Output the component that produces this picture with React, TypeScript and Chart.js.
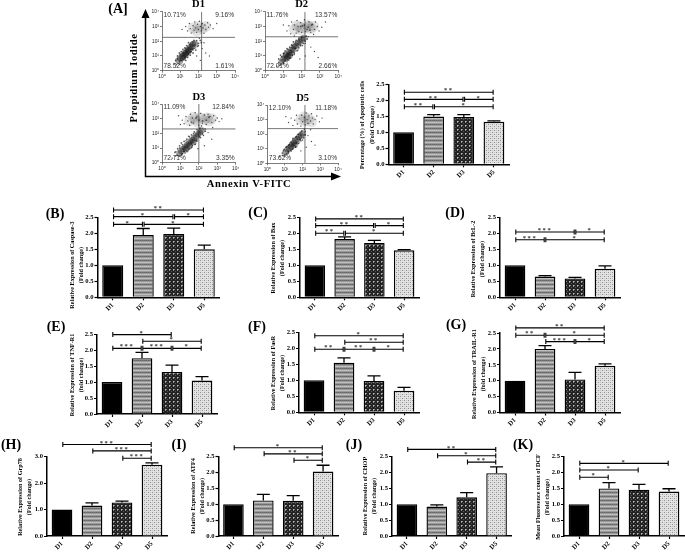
import React, { useEffect, useRef } from "react";
import { Chart, registerables } from "chart.js";

Chart.register(...registerables);

const categories = ["D1", "D2", "D3", "D5"];

const apoptosisMean = [1, 1.49, 1.48, 1.33];
const apoptosisErr = [0, 0.06, 0.07, 0.03];
const caspaseMean = [1, 1.95, 1.98, 1.5];
const caspaseErr = [0, 0.2, 0.18, 0.13];
const baxMean = [1, 1.82, 1.7, 1.47];
const baxErr = [0, 0.07, 0.08, 0.02];
const bclMean = [1, 0.65, 0.59, 0.89];
const bclErr = [0, 0.03, 0.03, 0.09];
const tnfMean = [1, 1.75, 1.32, 1.05];
const tnfErr = [0, 0.18, 0.21, 0.12];
const fasMean = [1, 1.55, 0.98, 0.67];
const fasErr = [0, 0.15, 0.16, 0.11];
const trailMean = [1, 2.0, 1.04, 1.47];
const trailErr = [0, 0.1, 0.22, 0.06];
const grpMean = [1, 1.15, 1.27, 2.7];
const grpErr = [0, 0.1, 0.05, 0.07];
const atfMean = [1, 1.12, 1.11, 2.03];
const atfErr = [0, 0.19, 0.16, 0.2];
const chopMean = [1, 0.93, 1.22, 1.98];
const chopErr = [0, 0.05, 0.15, 0.2];
const dcfMean = [1, 1.5, 1.46, 1.4];
const dcfErr = [0, 0.18, 0.17, 0.09];

type Bracket = [number, number, number, string];
const apoptosisBrackets: Bracket[] = [[0, 3, 2.25, "**"], [0, 2, 2.03, "**"], [2, 3, 2.03, "*"], [0, 1, 1.8, "**"], [1, 3, 1.8, "*"]];
const caspaseBrackets: Bracket[] = [[0, 3, 2.73, "**"], [0, 2, 2.52, "*"], [2, 3, 2.52, "*"], [0, 1, 2.28, "*"], [1, 3, 2.28, "*"]];
const baxBrackets: Bracket[] = [[0, 3, 2.45, "**"], [0, 2, 2.24, "**"], [2, 3, 2.24, "*"], [0, 1, 2.0, "**"], [1, 3, 2.0, "*"]];
const bclBrackets: Bracket[] = [[0, 2, 2.04, "***"], [2, 3, 2.04, "*"], [0, 1, 1.8, "***"], [1, 3, 1.8, "*"]];
const tnfBrackets: Bracket[] = [[0, 2, 2.49, "*"], [1, 3, 2.28, "*"], [0, 1, 2.06, "***"], [1, 2, 2.06, "***"], [2, 3, 2.06, "*"]];
const fasBrackets: Bracket[] = [[0, 3, 2.39, "*"], [1, 3, 2.19, "**"], [0, 1, 1.97, "**"], [1, 2, 1.97, "**"], [2, 3, 1.97, "*"]];
const trailBrackets: Bracket[] = [[0, 3, 2.66, "**"], [0, 1, 2.43, "**"], [1, 3, 2.43, "*"], [1, 2, 2.23, "***"], [2, 3, 2.23, "*"]];
const grpBrackets: Bracket[] = [[0, 3, 3.46, "***"], [1, 3, 3.22, "***"], [2, 3, 2.94, "***"]];
const atfBrackets: Bracket[] = [[0, 3, 2.78, "*"], [1, 3, 2.59, "**"], [2, 3, 2.39, "*"]];
const chopBrackets: Bracket[] = [[0, 3, 2.73, "**"], [1, 3, 2.53, "*"], [2, 3, 2.33, "**"]];
const dcfBrackets: Bracket[] = [[0, 3, 2.29, "*"], [0, 2, 2.08, "*"], [0, 1, 1.85, "*"]];

const tickDefault = [0, 0.5, 1, 1.5, 2, 2.5];
const tickGrp = [0, 1, 2, 3];

type Pt = [number, number];
const d1Dense: Pt[] = [[0.9, 0.7], [1.0, 0.85], [1.1, 1.0], [1.15, 0.9], [1.2, 1.05], [1.25, 1.2], [1.3, 1.1], [1.35, 1.25], [1.4, 1.4], [1.45, 1.3], [1.5, 1.45], [1.55, 1.6], [1.65, 1.65], [1.7, 1.8], [1.8, 1.85]];
const d1Haze: Pt[] = [[1.7, 2.9], [2.0, 3.0], [2.2, 2.85], [2.4, 3.0], [1.9, 2.7]];
const d1Mid: Pt[] = [[0.95, 0.45], [1.0, 0.7], [1.1, 0.6], [1.15, 0.75], [1.25, 0.85], [1.3, 0.7], [1.4, 0.9], [1.45, 1.15], [1.55, 1.05], [1.6, 1.3], [1.7, 1.2], [1.75, 1.5], [1.85, 1.4], [1.95, 1.65], [2.0, 1.85], [0.75, 0.7], [0.85, 1.0], [0.95, 1.2], [1.05, 1.3], [1.15, 1.45], [1.25, 1.55], [1.35, 1.7], [1.45, 1.9], [1.55, 1.85], [1.75, 2.05], [2.1, 2.05], [2.15, 1.9], [1.65, 1.45]];
const d1Sparse: Pt[] = [[0.7, 0.5], [0.8, 0.4], [0.85, 0.8], [0.95, 0.6], [1.0, 1.1], [1.05, 0.7], [1.2, 0.75], [1.15, 1.25], [1.3, 0.95], [1.4, 1.05], [1.3, 1.5], [1.55, 1.25], [1.5, 1.75], [1.7, 1.4], [1.65, 1.95], [1.85, 1.55], [1.9, 2.05], [2.0, 1.7], [2.05, 2.2], [2.2, 1.5], [2.3, 1.9], [2.4, 1.2], [2.6, 1.0], [1.9, 1.0], [2.1, 0.7], [1.3, 3.0], [1.4, 2.7], [1.5, 3.2], [1.55, 2.85], [1.6, 2.55], [1.7, 3.05], [1.75, 2.75], [1.8, 3.3], [1.85, 2.9], [1.9, 2.6], [1.95, 3.15], [2.0, 2.8], [2.05, 3.35], [2.1, 3.0], [2.15, 2.7], [2.2, 3.2], [2.25, 2.9], [2.3, 2.55], [2.35, 3.1], [2.4, 2.8], [2.5, 3.25], [2.55, 2.95], [2.65, 3.1], [2.8, 2.85], [1.1, 2.8], [3.0, 3.2]];
const d2Dense: Pt[] = [[0.9, 0.6], [1.0, 0.8], [1.1, 0.9], [1.15, 1.1], [1.25, 1.0], [1.3, 1.25], [1.4, 1.2], [1.45, 1.4], [1.55, 1.45], [1.6, 1.65], [1.7, 1.7], [1.8, 1.85], [1.9, 1.95], [2.0, 2.1], [2.1, 2.2], [1.2, 0.85], [1.35, 1.05]];
const d2Haze: Pt[] = [[1.6, 2.8], [1.9, 2.95], [2.2, 2.9], [2.4, 3.0], [2.5, 2.85], [2.3, 3.1], [2.0, 2.75], [1.75, 3.05], [2.65, 3.0]];
const d2Mid: Pt[] = [[0.85, 0.4], [1.0, 0.55], [1.1, 0.65], [1.25, 0.75], [1.35, 0.85], [1.5, 1.05], [1.6, 1.2], [1.75, 1.35], [1.85, 1.55], [1.95, 1.7], [2.1, 1.85], [2.2, 2.0], [2.3, 2.15], [0.75, 0.8], [0.85, 1.05], [1.0, 1.15], [1.1, 1.35], [1.2, 1.5], [1.35, 1.6], [1.45, 1.75], [1.55, 1.95], [1.7, 2.05], [1.85, 2.2], [2.0, 2.25], [1.65, 1.5], [2.25, 2.35], [1.95, 3.0], [2.15, 3.1], [2.35, 2.95], [2.55, 3.1], [2.45, 2.75]];
const d2Sparse: Pt[] = [[0.65, 0.3], [0.75, 0.55], [0.8, 0.35], [0.9, 0.95], [1.0, 0.5], [1.05, 1.2], [1.2, 0.6], [1.25, 1.45], [1.4, 0.85], [1.5, 1.7], [1.6, 1.1], [1.65, 1.95], [1.8, 1.4], [1.85, 2.1], [2.05, 1.7], [2.2, 1.85], [2.35, 2.3], [2.5, 1.6], [2.7, 1.3], [2.2, 1.0], [1.9, 0.8], [2.9, 0.9], [1.2, 2.7], [1.3, 3.05], [1.4, 2.5], [1.45, 3.3], [1.55, 2.8], [1.6, 3.1], [1.7, 2.55], [1.75, 3.4], [1.8, 3.0], [1.85, 2.65], [1.95, 3.25], [2.0, 2.6], [2.05, 3.05], [2.15, 3.45], [2.2, 2.65], [2.3, 2.8], [2.4, 3.3], [2.5, 2.6], [2.6, 3.15], [2.7, 2.8], [2.75, 3.3], [2.85, 3.0], [2.95, 2.7], [3.1, 2.95], [1.0, 3.1], [3.3, 3.3], [2.65, 2.45], [1.6, 2.35]];
const d3Dense: Pt[] = [[0.95, 0.65], [1.05, 0.8], [1.15, 0.95], [1.25, 1.05], [1.3, 0.9], [1.35, 1.2], [1.45, 1.3], [1.5, 1.15], [1.55, 1.45], [1.65, 1.55], [1.7, 1.4], [1.75, 1.7], [1.85, 1.8], [1.95, 1.95], [2.05, 2.05], [2.15, 2.2]];
const d3Haze: Pt[] = [[1.5, 2.85], [1.8, 2.95], [2.1, 3.05], [2.3, 2.95], [2.45, 3.05], [2.55, 2.85], [1.95, 2.75], [1.7, 3.1], [2.7, 3.0]];
const d3Mid: Pt[] = [[0.8, 0.5], [0.95, 0.45], [1.1, 0.6], [1.2, 0.75], [1.35, 0.8], [1.5, 0.95], [1.6, 1.05], [1.8, 1.25], [1.9, 1.55], [2.05, 1.75], [2.2, 1.95], [2.35, 2.15], [0.7, 0.7], [0.85, 0.95], [0.95, 1.15], [1.05, 1.35], [1.2, 1.45], [1.35, 1.6], [1.45, 1.8], [1.6, 1.9], [1.75, 2.1], [1.9, 2.25], [2.05, 2.35], [1.85, 1.5], [1.85, 3.05], [2.0, 2.9], [2.2, 2.85], [2.4, 2.9], [2.55, 3.1], [1.6, 2.75]];
const d3Sparse: Pt[] = [[0.55, 0.3], [0.7, 0.45], [0.75, 0.75], [0.85, 0.5], [0.95, 1.0], [1.05, 0.55], [1.1, 1.25], [1.25, 0.65], [1.3, 1.5], [1.45, 0.9], [1.5, 1.75], [1.65, 1.15], [1.7, 2.0], [1.9, 1.45], [2.1, 1.7], [2.25, 1.85], [2.35, 2.3], [2.5, 2.05], [2.7, 1.6], [2.3, 1.15], [1.95, 0.95], [2.75, 2.4], [1.1, 2.9], [1.2, 2.65], [1.3, 3.15], [1.4, 2.85], [1.5, 2.55], [1.55, 3.3], [1.65, 3.05], [1.7, 2.7], [1.8, 3.4], [1.9, 3.15], [2.0, 2.55], [2.1, 3.35], [2.2, 2.7], [2.3, 3.25], [2.4, 2.6], [2.5, 3.3], [2.6, 3.15], [2.7, 2.75], [2.8, 3.2], [2.9, 2.9], [3.0, 3.05], [3.1, 2.8], [1.0, 2.6], [3.25, 3.0], [0.9, 3.2], [2.15, 2.5]];
const d5Dense: Pt[] = [[1.05, 0.75], [1.15, 0.95], [1.25, 1.05], [1.35, 1.15], [1.4, 1.3], [1.5, 1.4], [1.55, 1.25], [1.6, 1.55], [1.7, 1.65], [1.8, 1.8], [1.9, 1.9], [2.0, 2.05]];
const d5Haze: Pt[] = [[1.9, 3.0], [2.15, 2.9], [2.35, 3.05], [2.1, 3.2], [2.5, 2.85]];
const d5Mid: Pt[] = [[0.95, 0.5], [1.1, 0.65], [1.2, 0.8], [1.35, 0.85], [1.45, 1.0], [1.6, 1.15], [1.75, 1.35], [1.9, 1.55], [2.05, 1.75], [2.15, 1.95], [0.85, 0.7], [0.95, 0.95], [1.1, 1.15], [1.2, 1.25], [1.35, 1.45], [1.45, 1.7], [1.6, 1.8], [1.75, 2.0], [1.95, 2.2], [2.1, 2.35], [1.65, 1.4], [1.85, 1.65]];
const d5Sparse: Pt[] = [[0.7, 0.45], [0.85, 0.55], [0.9, 0.85], [1.0, 0.6], [1.05, 1.1], [1.2, 0.7], [1.25, 1.3], [1.4, 0.95], [1.45, 1.6], [1.6, 1.1], [1.65, 1.85], [1.8, 1.4], [1.85, 2.1], [2.0, 1.6], [2.15, 2.2], [2.3, 1.9], [2.45, 2.3], [2.5, 1.5], [2.2, 1.1], [1.9, 0.85], [2.7, 1.25], [1.2, 2.8], [1.35, 3.1], [1.45, 2.6], [1.55, 2.95], [1.65, 3.3], [1.7, 2.7], [1.8, 3.05], [1.9, 2.55], [1.95, 3.3], [2.0, 2.85], [2.1, 3.15], [2.15, 2.65], [2.2, 3.45], [2.25, 3.0], [2.3, 2.75], [2.35, 3.25], [2.45, 2.9], [2.5, 3.4], [2.55, 3.1], [2.6, 2.7], [2.7, 3.0], [2.8, 3.25], [2.95, 2.85], [1.05, 3.2], [3.1, 3.1]];

const d1Quad = ["10.71%", "9.16%", "78.52%", "1.61%"];
const d2Quad = ["11.76%", "13.57%", "72.01%", "2.66%"];
const d3Quad = ["11.09%", "12.84%", "72.71%", "3.35%"];
const d5Quad = ["12.10%", "11.18%", "73.62%", "3.10%"];

const SERIF = "'Liberation Serif', serif";
const SANS = "'Liberation Sans', sans-serif";
const SUP = ["\u2070", "\u00b9", "\u00b2", "\u00b3", "\u2074"];

const BAR_LAYOUT = [
  { id: "A", mean: apoptosisMean, err: apoptosisErr, br: apoptosisBrackets, ticks: tickDefault, title: ["Percentage (%) of Apoptotic cells", "(Fold Change)"], L: 388.5, R: 509, y0: 164.3, yt: 84.3, tx: 362.7, ty: 125 },
  { id: "B", mean: caspaseMean, err: caspaseErr, br: caspaseBrackets, ticks: tickDefault, title: ["Relative Expression of Caspase-3", "(Fold change)"], L: 97.5, R: 219.5, y0: 297.3, yt: 217.3, tx: 72.5, ty: 265 },
  { id: "C", mean: baxMean, err: baxErr, br: baxBrackets, ticks: tickDefault, title: ["Relative Expression of Bax", "(Fold change)"], L: 300, R: 419, y0: 297.3, yt: 217.3, tx: 273, ty: 258 },
  { id: "D", mean: bclMean, err: bclErr, br: bclBrackets, ticks: tickDefault, title: ["Relative Expression of BcL-2", "(Fold change)"], L: 500, R: 620, y0: 297.3, yt: 217.3, tx: 473, ty: 259 },
  { id: "E", mean: tnfMean, err: tnfErr, br: tnfBrackets, ticks: tickDefault, title: ["Relative Expression of TNF-R1", "(fold change)"], L: 97, R: 217, y0: 414, yt: 334.3, tx: 72, ty: 375 },
  { id: "F", mean: fasMean, err: fasErr, br: fasBrackets, ticks: tickDefault, title: ["Relative Expression of FasR", "(Fold change)"], L: 299, R: 419, y0: 412.3, yt: 332.3, tx: 273, ty: 373 },
  { id: "G", mean: trailMean, err: trailErr, br: trailBrackets, ticks: tickDefault, title: ["Relative Expression of TRAIL-R1", "(fold change)"], L: 500, R: 620, y0: 412.5, yt: 333, tx: 474, ty: 374 },
  { id: "H", mean: grpMean, err: grpErr, br: grpBrackets, ticks: tickGrp, title: ["Relative Expression of Grp78", "(Fold change)"], L: 47, R: 167, y0: 536, yt: 456.7, tx: 20, ty: 497 },
  { id: "I", mean: atfMean, err: atfErr, br: atfBrackets, ticks: tickDefault, title: ["Relative Expression of ATF4", "(Fold change)"], L: 218.5, R: 338, y0: 536, yt: 456.7, tx: 193, ty: 496 },
  { id: "J", mean: chopMean, err: chopErr, br: chopBrackets, ticks: tickDefault, title: ["Relative Expression of CHOP", "(Fold change)"], L: 392, R: 511.5, y0: 536, yt: 456.7, tx: 365, ty: 496 },
  { id: "K", mean: dcfMean, err: dcfErr, br: dcfBrackets, ticks: tickDefault, title: ["Mean Fluoresence count of DCF", "(Fold change)"], L: 564, R: 684, y0: 536, yt: 456.7, tx: 538, ty: 497 },
];

const FLOW_LAYOUT = [
  { name: "D1", dense: d1Dense, haze: d1Haze, mid: d1Mid, sparse: d1Sparse, quad: d1Quad, qx: 2.17, qy: 2.26, L: 162, R: 235, T: 11.7, B: 70.7 },
  { name: "D2", dense: d2Dense, haze: d2Haze, mid: d2Mid, sparse: d2Sparse, quad: d2Quad, qx: 2.18, qy: 2.3, L: 265, R: 338.3, T: 11.7, B: 70.7 },
  { name: "D3", dense: d3Dense, haze: d3Haze, mid: d3Mid, sparse: d3Sparse, quad: d3Quad, qx: 2.0, qy: 2.3, L: 162, R: 235.7, T: 104, B: 162.7 },
  { name: "D5", dense: d5Dense, haze: d5Haze, mid: d5Mid, sparse: d5Sparse, quad: d5Quad, qx: 2.13, qy: 2.38, L: 267.3, R: 338, T: 105, B: 163.3 },
];

const LETTERS: [string, number, number][] = [
  ["(A]", 118, 9], ["(B)", 55, 214], ["(C)", 258, 213], ["(D)", 455, 213], ["(E)", 56, 327], ["(F)", 257, 327],
  ["(G)", 456, 325], ["(H)", 11, 445], ["(I)", 179, 445], ["(J)", 354, 445], ["(K)", 523, 445],
];

function makePattern(size: [number, number], base: string, dots: [number, number, string][]) {
  const c = document.createElement("canvas");
  c.width = size[0];
  c.height = size[1];
  const g = c.getContext("2d")!;
  g.fillStyle = base;
  g.fillRect(0, 0, c.width, c.height);
  dots.forEach(([x, y, col]) => {
    g.fillStyle = col;
    g.fillRect(x, y, 1, 1);
  });
  return g.createPattern(c, "repeat")!;
}

function barPlugin(p: (typeof BAR_LAYOUT)[number]) {
  return {
    id: "barMarks" + p.id,
    afterDatasetsDraw(chart: any) {
      const { ctx, scales } = chart;
      const x = scales.x;
      const y = scales.y;
      ctx.save();
      ctx.strokeStyle = "#000";
      ctx.fillStyle = "#000";
      ctx.lineWidth = 1.3;
      p.mean.forEach((m: number, i: number) => {
        if (!p.err[i]) return;
        const px = x.getPixelForValue(i);
        const top = y.getPixelForValue(m + p.err[i]);
        const bot = y.getPixelForValue(m);
        ctx.beginPath();
        ctx.moveTo(px, bot);
        ctx.lineTo(px, top);
        ctx.moveTo(px - 6.5, top);
        ctx.lineTo(px + 6.5, top);
        ctx.stroke();
      });
      p.br.forEach(([a, b, v, label]: Bracket) => {
        const xa = x.getPixelForValue(a) + 0.8;
        const xb = x.getPixelForValue(b) - 0.8;
        const py = y.getPixelForValue(v);
        ctx.lineWidth = 1.1;
        ctx.beginPath();
        ctx.moveTo(xa, py);
        ctx.lineTo(xb, py);
        ctx.moveTo(xa, py - 2.5);
        ctx.lineTo(xa, py + 2.5);
        ctx.moveTo(xb, py - 2.5);
        ctx.lineTo(xb, py + 2.5);
        ctx.stroke();
        ctx.fillStyle = "#333";
        ctx.font = `bold 6.5px ${SERIF}`;
        ctx.textAlign = "center";
        ctx.textBaseline = "middle";
        ctx.letterSpacing = "1.6px";
        ctx.fillText(label, (xa + xb) / 2, py - 1.5);
        ctx.letterSpacing = "0px";
        ctx.fillStyle = "#000";
      });
      ctx.font = `bold 6.2px ${SERIF}`;
      ctx.textAlign = "center";
      ctx.textBaseline = "middle";
      p.title.forEach((line: string, i: number) => {
        ctx.save();
        ctx.translate(p.tx + i * 9.2, p.ty);
        ctx.rotate(-Math.PI / 2);
        ctx.fillText(line, 0, 0);
        ctx.restore();
      });
      ctx.restore();
    },
  };
}

function flowPlugin(p: (typeof FLOW_LAYOUT)[number], first: boolean) {
  return {
    id: "flowMarks" + p.name,
    afterDatasetsDraw(chart: any) {
      const { ctx, chartArea: a } = chart;
      ctx.save();
      ctx.fillStyle = "#333";
      ctx.font = `6.6px ${SANS}`;
      ctx.textBaseline = "middle";
      ctx.textAlign = "left";
      ctx.fillText(p.quad[0], a.left + 1.5, a.top + 3.5);
      ctx.fillText(p.quad[2], a.left + 1.5, a.bottom - 5);
      ctx.textAlign = "right";
      ctx.fillText(p.quad[1], a.right - 1, a.top + 3.5);
      ctx.fillText(p.quad[3], a.right - 1, a.bottom - 5);
      ctx.fillStyle = "#000";
      ctx.textAlign = "center";
      ctx.font = `bold 10.5px ${SERIF}`;
      ctx.fillText(p.name, (a.left + a.right) / 2, a.top - 7);
      if (first) {
        ctx.strokeStyle = "#000";
        ctx.lineWidth = 1.5;
        ctx.beginPath();
        ctx.moveTo(145.5, 14);
        ctx.lineTo(145.5, 176.5);
        ctx.lineTo(336, 176.5);
        ctx.stroke();
        ctx.beginPath();
        ctx.moveTo(145.5, 9);
        ctx.lineTo(141.5, 18);
        ctx.lineTo(149.5, 18);
        ctx.closePath();
        ctx.moveTo(341, 176.5);
        ctx.lineTo(331, 172.5);
        ctx.lineTo(331, 180.5);
        ctx.closePath();
        ctx.fill();
        ctx.font = `bold 10.5px ${SERIF}`;
        ctx.letterSpacing = "0.6px";
        ctx.fillText("Annexin V-FITC", 249, 184);
        ctx.save();
        ctx.translate(134, 78);
        ctx.rotate(-Math.PI / 2);
        ctx.fillText("Propidium Iodide", 0, 0);
        ctx.restore();
        ctx.letterSpacing = "0px";
      }
      ctx.restore();
    },
  };
}

const W = 685;
const H = 552;

function barConfig(p: (typeof BAR_LAYOUT)[number]): any {
  const fills = [
    "#000",
    makePattern([4, 4], "#999", [[0, 0, "#666"], [1, 0, "#777"], [2, 0, "#666"], [3, 0, "#777"], [0, 2, "#c4c4c4"], [1, 2, "#bbb"], [2, 2, "#c4c4c4"], [3, 2, "#bbb"]]),
    makePattern([4, 4], "#222", [[1, 1, "#bbb"], [2, 1, "#888"], [1, 2, "#888"], [3, 3, "#555"]]),
    makePattern([4, 4], "#e2e2e2", [[0, 0, "#8f8f8f"], [2, 2, "#8f8f8f"], [2, 0, "#c4c4c4"], [0, 2, "#c4c4c4"]]),
  ];
  const yw = 20;
  const xh = 20;
  const tickFont = { family: SERIF, size: 6.6, weight: "bold" };
  const ymax = p.ticks[p.ticks.length - 1];
  return {
    type: "bar",
    data: {
      labels: categories,
      datasets: [{ data: p.mean, backgroundColor: fills, borderColor: "#000", borderWidth: 1.4, barPercentage: 0.69, categoryPercentage: 1 }],
    },
    options: {
      responsive: false,
      animation: false,
      events: [],
      layout: { padding: { left: p.L - yw, right: W - p.R, top: p.yt, bottom: H - p.y0 - xh } },
      plugins: { legend: { display: false }, tooltip: { enabled: false } },
      scales: {
        x: {
          afterFit: (s: any) => { s.height = xh; },
          grid: { offset: false, drawOnChartArea: false, drawTicks: true, tickLength: 3, tickColor: "#000", tickWidth: 1.2 },
          border: { color: "#000", width: 1.5 },
          ticks: { font: tickFont, color: "#000", minRotation: 45, maxRotation: 45, padding: 1, autoSkip: false },
        },
        y: {
          min: 0,
          max: ymax,
          afterFit: (s: any) => { s.width = yw; },
          afterBuildTicks: (s: any) => { s.ticks = p.ticks.map((v: number) => ({ value: v })); },
          grid: { drawOnChartArea: false, drawTicks: true, tickLength: 3, tickColor: "#000", tickWidth: 1.2 },
          border: { color: "#000", width: 1.5 },
          ticks: { font: tickFont, color: "#000", padding: 1, callback: (v: number) => v.toFixed(1) },
        },
      },
    },
    plugins: [barPlugin(p)],
  };
}

function flowConfig(p: (typeof FLOW_LAYOUT)[number], first: boolean): any {
  const yw = 14;
  const xh = 11;
  const tickFont = { family: SANS, size: 4.8 };
  const toXY = (a: Pt[]) => a.map(([x, y]) => ({ x, y }));
  const ticksCommon = { font: tickFont, color: "#222", stepSize: 1, padding: 1, maxRotation: 0, callback: (v: number) => "10" + SUP[v] };
  const gridCommon = { drawOnChartArea: false, drawTicks: true, tickLength: 2, tickColor: "#444", tickWidth: 0.7 };
  return {
    type: "scatter",
    data: {
      datasets: [
        { data: toXY(p.haze), pointRadius: 5.5, backgroundColor: "rgba(60,60,60,0.14)", borderWidth: 0 },
        { data: toXY(p.dense), pointRadius: 3.2, backgroundColor: "rgba(20,20,20,0.42)", borderWidth: 0 },
        { data: toXY(p.mid), pointRadius: 0.9, backgroundColor: "rgba(30,30,30,0.7)", borderWidth: 0 },
        { data: toXY(p.sparse), pointRadius: 0.7, backgroundColor: "rgba(30,30,30,0.8)", borderWidth: 0 },
        { data: [{ x: p.qx, y: 0 }, { x: p.qx, y: 4 }], showLine: true, pointRadius: 0, borderColor: "#666", borderWidth: 0.9 },
        { data: [{ x: 0, y: p.qy }, { x: 4, y: p.qy }], showLine: true, pointRadius: 0, borderColor: "#666", borderWidth: 0.9 },
      ],
    },
    options: {
      responsive: false,
      animation: false,
      events: [],
      layout: { padding: { left: p.L - yw, right: W - p.R, top: p.T, bottom: H - p.B - xh } },
      plugins: { legend: { display: false }, tooltip: { enabled: false } },
      scales: {
        x: { type: "linear", min: 0, max: 4, afterFit: (s: any) => { s.height = xh; }, grid: gridCommon, border: { color: "#444", width: 0.7 }, ticks: ticksCommon },
        y: { type: "linear", min: 0, max: 4, afterFit: (s: any) => { s.width = yw; }, grid: gridCommon, border: { color: "#444", width: 0.7 }, ticks: ticksCommon },
      },
    },
    plugins: [flowPlugin(p, first)],
  };
}

function Panel({ config }: { config: () => any }) {
  const ref = useRef<HTMLCanvasElement>(null);
  useEffect(() => {
    const chart = new Chart(ref.current!, config());
    return () => chart.destroy();
  }, []);
  return <canvas ref={ref} width={W} height={H} style={{ position: "absolute", left: 0, top: 0, width: W, height: H }} />;
}

export default function App() {
  return (
    <div style={{ position: "absolute", left: 0, top: 0, width: W, height: H, overflow: "hidden", background: "#fff", filter: "blur(0.35px)" }}>
      {FLOW_LAYOUT.map((p, i) => (
        <Panel key={p.name} config={() => flowConfig(p, i === 0)} />
      ))}
      {BAR_LAYOUT.map((p) => (
        <Panel key={p.id} config={() => barConfig(p)} />
      ))}
      {LETTERS.map(([t, x, y]) => (
        <div key={t} style={{ position: "absolute", left: x, top: y, transform: "translate(-50%,-50%)", font: `bold 14px ${SERIF}`, color: "#000", whiteSpace: "nowrap" }}>
          {t}
        </div>
      ))}
    </div>
  );
}
